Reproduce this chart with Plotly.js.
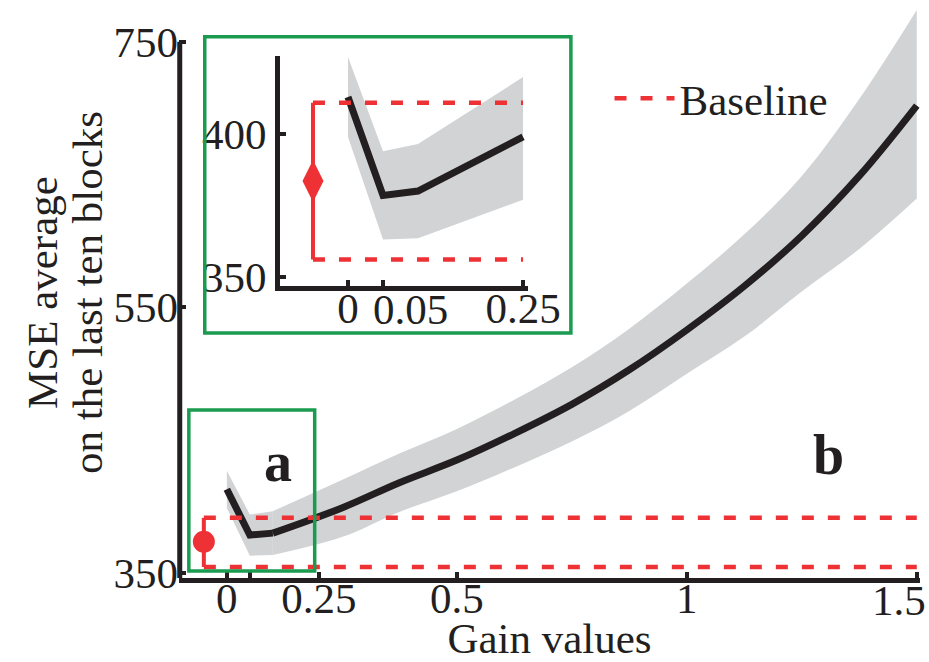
<!DOCTYPE html>
<html>
<head>
<meta charset="utf-8">
<script src="https://cdn.plot.ly/plotly-3.0.1.min.js"></script>
<style>
  body { margin: 0; background: #fff; }
  #graph { width: 929px; height: 662px; }
</style>
</head>
<body>
<div id="graph"></div>
<script>
// gain values and MSE (mean, upper and lower edge of the grey band)
const gains = [0, 0.05, 0.1, 0.25, 0.375, 0.5, 0.625, 0.75, 0.875, 1.0, 1.125, 1.25, 1.375, 1.5]
const mseMean = [413, 378.5, 380, 399, 418, 435, 455, 477, 503, 533, 566, 604, 649, 702]
const mseUpper = [427, 394, 396.5, 420, 440, 458.5, 480.5, 505, 534, 568, 605, 649, 707, 774]
const mseLower = [399, 363, 363.5, 377, 396, 411.5, 429.5, 449, 472, 500, 528, 562, 594, 632]

// first points are joined straight, the rest is smoothed; zoomed part (a) shows the first four
const kneeEnd = 3
const insetCount = 4

// baseline: [low, mean, high]
const baseGain = -0.05
const baseMain = [354.5, 373.5, 391.5]
const baseInset = [356, 383.5, 411]

// tick labels; "1.5" and "0.05" sit off their ticks in the figure, so they are placed as notes
const mainXTicks = [0, 0.05, 0.2, 0.5, 1, 1.5]
const mainXText = ['0', '', '0.25', '0.5', '1', '']
const mainYTicks = [350, 550, 750]
const insetXTicks = [0, 0.05, 0.25]
const insetXText = ['0', '', '0.25']
const insetYTicks = [350, 400]
const yTitle = ['MSE average', 'on the last ten blocks']

const ink = '#231f20'
const red = '#ee3135'
const grey = '#d1d3d4'
const green = '#1a9b50'
const serif = 'Liberation Serif, Times New Roman, serif'
const fs = 43

function bandTraces (xs, up, lo, xa, ya, shape) {
  return [
    {
      x: xs, y: lo, xaxis: xa, yaxis: ya,
      mode: 'lines', line: { width: 0, color: grey, shape: shape },
      hoverinfo: 'skip', showlegend: false
    },
    {
      x: xs, y: up, xaxis: xa, yaxis: ya,
      fill: 'tonexty', fillcolor: grey,
      mode: 'lines', line: { width: 0, color: grey, shape: shape },
      hoverinfo: 'skip', showlegend: false
    }
  ]
}

function meanTrace (xs, ys, xa, ya, shape) {
  return {
    x: xs, y: ys, xaxis: xa, yaxis: ya,
    mode: 'lines', line: { color: ink, width: 7, shape: shape },
    showlegend: false
  }
}

function baseTraces (base, xEnd, symbol, size, xa, ya, legend) {
  return [
    {
      x: [baseGain, xEnd], y: [base[2], base[2]], xaxis: xa, yaxis: ya,
      mode: 'lines', line: { color: red, width: 4.5, dash: '12px,14px' },
      name: 'Baseline', showlegend: legend
    },
    {
      x: [baseGain, xEnd], y: [base[0], base[0]], xaxis: xa, yaxis: ya,
      mode: 'lines', line: { color: red, width: 4.5, dash: '12px,14px' },
      showlegend: false
    },
    {
      x: [baseGain], y: [base[1]], xaxis: xa, yaxis: ya,
      mode: 'markers', marker: { color: red, size: size, symbol: symbol },
      error_y: {
        type: 'data', symmetric: false,
        array: [base[2] - base[1]], arrayminus: [base[1] - base[0]],
        width: 0, thickness: 4, color: red
      },
      showlegend: false
    }
  ]
}

const head = n => a => a.slice(0, n)
const tail = n => a => a.slice(n - 1)
const knee = head(kneeEnd)
const rest = tail(kneeEnd)
const ins = head(insetCount)

const data = [
  ...bandTraces(knee(gains), knee(mseUpper), knee(mseLower), 'x', 'y', 'linear'),
  ...bandTraces(rest(gains), rest(mseUpper), rest(mseLower), 'x', 'y', 'spline'),
  meanTrace(knee(gains), knee(mseMean), 'x', 'y', 'linear'),
  meanTrace(rest(gains), rest(mseMean), 'x', 'y', 'spline'),
  ...baseTraces(baseMain, 1.5, 'circle', 22, 'x', 'y', true),
  ...bandTraces(ins(gains), ins(mseUpper), ins(mseLower), 'x2', 'y2', 'linear'),
  meanTrace(ins(gains), ins(mseMean), 'x2', 'y2', 'linear'),
  ...baseTraces(baseInset, 0.25, 'diamond-tall', 30, 'x2', 'y2', false)
]

const tickFont = { family: serif, size: fs, color: ink }
const textFont = { family: serif, size: fs, color: ink }
const boldFont = { family: serif, size: 56, color: ink }

const layout = {
  width: 929,
  height: 662,
  margin: { l: 179, r: 9, t: 2, b: 84 },
  paper_bgcolor: '#fff',
  plot_bgcolor: '#fff',
  font: { family: serif, color: ink },
  showlegend: true,
  legend: {
    x: 0.581, y: 0.833, xanchor: 'left', yanchor: 'middle',
    font: textFont,
    bgcolor: 'rgba(0,0,0,0)', itemwidth: 60
  },
  xaxis: {
    range: [-0.104, 1.507],
    tickmode: 'array', tickvals: mainXTicks, ticktext: mainXText,
    ticks: 'inside', ticklen: 6, tickwidth: 4, tickcolor: ink,
    tickfont: tickFont, tickangle: 0,
    ticklabelstandoff: -22,
    showline: true, linewidth: 5, linecolor: ink,
    showgrid: false, zeroline: false,
    title: { text: 'Gain values', font: textFont, standoff: 2 }
  },
  yaxis: {
    range: [346.2, 780],
    tickmode: 'array', tickvals: mainYTicks,
    ticks: 'inside', ticklen: 7, tickwidth: 4, tickcolor: ink,
    tickfont: tickFont,
    showline: false, showgrid: false, zeroline: false
  },
  xaxis2: {
    domain: [0.1363, 0.471], anchor: 'y2',
    range: [-0.0971, 0.2571],
    tickmode: 'array', tickvals: insetXTicks, ticktext: insetXText,
    ticks: 'inside', ticklen: 6, tickwidth: 4, tickcolor: ink,
    tickfont: tickFont, tickangle: 0,
    ticklabelstandoff: -20,
    showline: true, linewidth: 5, linecolor: ink,
    showgrid: false, zeroline: false
  },
  yaxis2: {
    domain: [0.5069, 0.9063], anchor: 'x2',
    range: [346.7, 427.4],
    tickmode: 'array', tickvals: insetYTicks,
    ticks: 'inside', ticklen: 6, tickwidth: 4, tickcolor: ink,
    tickfont: tickFont,
    showline: true, linewidth: 5, linecolor: ink,
    showgrid: false, zeroline: false
  },
  shapes: [
    // main y axis line, stops at 750 while the band runs above it
    { type: 'line', xref: 'paper', yref: 'y', x0: 0.001, x1: 0.001, y0: 346.2, y1: 750, line: { color: ink, width: 5 } },
    // box around the zoomed region and around the inset
    { type: 'rect', xref: 'x', yref: 'y', x0: -0.0826, x1: 0.191, y0: 351.5, y1: 472.8, line: { color: green, width: 3.5 } },
    { type: 'rect', xref: 'x', yref: 'y', x0: -0.048, x1: 0.748, y0: 530.8, y1: 753.8, line: { color: green, width: 3.5 } }
  ],
  annotations: [
    { xref: 'paper', yref: 'paper', x: -0.1849, y: 0.4965, xanchor: 'center', yanchor: 'middle', text: yTitle[0], textangle: -90, showarrow: false, font: textFont },
    { xref: 'paper', yref: 'paper', x: -0.1242, y: 0.4965, xanchor: 'center', yanchor: 'middle', text: yTitle[1], textangle: -90, showarrow: false, font: textFont },
    { xref: 'x', yref: 'paper', x: 1.461, y: -0.0399, yanchor: 'middle', text: '1.5', showarrow: false, font: tickFont },
    { xref: 'x2', yref: 'paper', x: 0.0886, y: 0.4653, yanchor: 'middle', text: '0.05', showarrow: false, font: tickFont },
    { xref: 'x', yref: 'y', x: 0.111, y: 433.6, text: '<b>a</b>', showarrow: false, font: boldFont },
    { xref: 'x', yref: 'y', x: 1.307, y: 438.9, text: '<b>b</b>', showarrow: false, font: boldFont }
  ]
}

Plotly.newPlot('graph', data, layout, { displayModeBar: false, staticPlot: true })
</script>
</body>
</html>
